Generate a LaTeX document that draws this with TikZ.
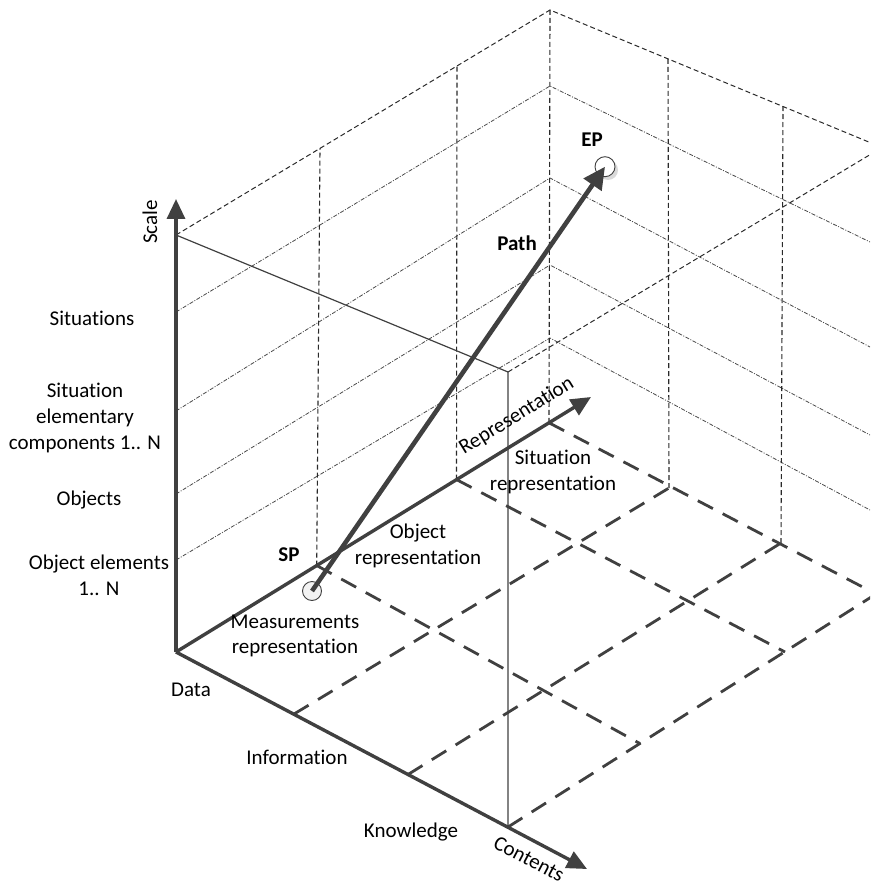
\documentclass[tikz,border=0pt]{standalone}
\usepackage{fontspec}
\setmainfont[Ligatures=NoCommon]{Carlito}
\usetikzlibrary{arrows.meta}
\definecolor{axisgray}{HTML}{404040}
\definecolor{thingray}{HTML}{2A2A2A}
\definecolor{dotgray}{HTML}{4A4A4A}
\begin{document}
\begin{tikzpicture}[x=1pt,y=-1pt,
  mainaxis/.style={draw=axisgray, line width=3.4pt, -{Triangle[length=20pt,width=18pt]}},
  pathline/.style={draw=axisgray, line width=4.6pt, -{Triangle[length=22pt,width=21pt]}},
  floorgrid/.style={draw=axisgray, line width=2.8pt, dash pattern=on 17pt off 11pt},
  walledge/.style={draw=thingray, line width=1pt, dash pattern=on 5pt off 3pt},
  wallvert/.style={draw=thingray, line width=1.1pt, dash pattern=on 5pt off 3pt},
  levelline/.style={draw=dotgray, line width=0.8pt, dash pattern=on 4pt off 1.5pt on 1pt off 1.5pt},
  frontline/.style={draw=axisgray, line width=1.2pt},
  lbl/.style={font=\fontsize{21}{25.7}\selectfont, align=center, inner sep=0pt, text=black},
  blbl/.style={font=\fontsize{21}{25.7}\selectfont\bfseries, inner sep=0pt, text=black},
]
\useasboundingbox (0,0) rectangle (870,882);
\clip (0,0) rectangle (870,882);

% ---- key coordinates
\coordinate (O) at (176,652);
\coordinate (scaletip) at (176,199);
\coordinate (reptip) at (591,397);
\coordinate (contip) at (587,869);
\coordinate (ST) at (176,235);
\coordinate (S1) at (176,560);
\coordinate (S2) at (176,494);
\coordinate (S3) at (176,411);
\coordinate (S4) at (176,312);
% representation axis marks
\coordinate (R1) at (316.7,565.5);
\coordinate (R2) at (456.5,479.6);
\coordinate (R3) at (549,422.8);
% contents axis marks
\coordinate (C1) at (294,714);
\coordinate (C2) at (408,774.5);
\coordinate (C3) at (508,827);
% floor far points
\coordinate (F13) at (669,488);
\coordinate (F23) at (781,543);
\coordinate (F31) at (640,743.6);
\coordinate (F32) at (785,652);
\coordinate (F33) at (876,594);
% wall tops
\coordinate (T1) at (320,148.4);
\coordinate (T2) at (457,66);
\coordinate (WT) at (550,10);
\coordinate (T4) at (668,58.5);
\coordinate (T5) at (783,106.5);
\coordinate (ET) at (882,147.5);
\coordinate (FT) at (508,372);
% level corners on back vertical
\coordinate (W1) at (550,338);
\coordinate (W2) at (550,265);
\coordinate (W3) at (550,178);
\coordinate (W4) at (550,86);
\coordinate (E1) at (870,510);
\coordinate (E2) at (870,435);
\coordinate (E3) at (870,347);
\coordinate (E4) at (870,242);

% ---- back walls: level lines
\draw[levelline] (S1) -- (W1) -- (E1);
\draw[levelline] (S2) -- (W2) -- (E2);
\draw[levelline] (S3) -- (W3) -- (E3);
\draw[levelline] (S4) -- (W4) -- (E4);

% ---- top outline
\draw[walledge] (ST) -- (WT) -- (ET);
\draw[walledge] (FT) -- (ET);

% ---- wall verticals
\draw[wallvert] (R1) -- (T1);
\draw[wallvert] (R2) -- (T2);
\draw[wallvert] (R3) -- (WT);
\draw[wallvert] (F13) -- (T4);
\draw[wallvert] (F23) -- (T5);

% ---- floor grid
\draw[floorgrid] (C1) -- (F13);
\draw[floorgrid] (C2) -- (F23);
\draw[floorgrid] (C3) -- (F33);
\draw[floorgrid] (R1) -- (F31);
\draw[floorgrid] (R2) -- (F32);
\draw[floorgrid] (R3) -- (F33);

% ---- front plane
\draw[frontline] (ST) -- (FT) -- (C3);

% ---- axes
\draw[mainaxis] (O) -- (scaletip);
\draw[mainaxis] (O) -- (reptip);
\draw[mainaxis] (O) -- (contip);

% ---- points and path
\fill[gray!30] (608,170) circle (10pt);
\node[circle, draw=axisgray, fill=white, line width=0.9pt, minimum size=20pt, inner sep=0pt] (EP) at (605,166.7) {};
\node[circle, draw=axisgray, fill=gray!10, line width=0.9pt, minimum size=19pt, inner sep=0pt] (SP) at (312,591) {};
\draw[pathline] (SP.center) -- (EP.center);

% ---- labels
\node[lbl, rotate=90] (lscale) at (150,222) {Scale};
\node[lbl] (lsit) at (92,318) {Situations};
\node[lbl] (lsec) at (85,418) {Situation\\elementary\\components 1.. N};
\node[lbl] (lobj) at (89,500) {Objects};
\node[lbl] (loe) at (99,575) {Object elements\\1.. N};
\node[lbl] (ldata) at (191,690) {Data};
\node[lbl] (linfo) at (297,757) {Information};
\node[lbl] (lknow) at (411,832) {Knowledge};
\node[lbl, rotate=-27.8] (lcont) at (529,859) {Contents};
\node[lbl, rotate=31.6] (lrep) at (516.7,416) {Representation};
\node[lbl] (lsr) at (553,472) {Situation\\representation};
\node[lbl] (lor) at (418,546) {Object\\representation};
\node[lbl] (lmr) at (295,636) {Measurements\\representation};
\node[blbl] (lsp) at (289,555) {SP};
\node[blbl] (lep) at (592,140) {EP};
\node[blbl] (lpath) at (517,243) {Path};
\end{tikzpicture}
\end{document}
